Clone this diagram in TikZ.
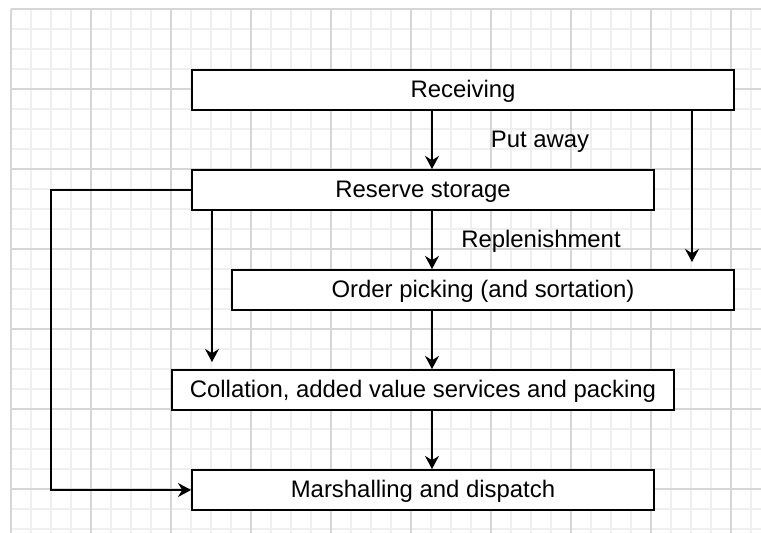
\documentclass[tikz,border=0pt]{standalone}
\usepackage{fontspec}
\setmainfont{Liberation Sans}
\usetikzlibrary{arrows.meta,calc}
\definecolor{minorgrey}{HTML}{EFEFEF}
\definecolor{majorgrey}{HTML}{D6D6D6}
\tikzset{
    box/.style =    {rectangle,
                    fill=white,
                    draw=black,
                    text=black,
                    line width=1.1pt,
                    minimum height=0.8cm,
                    inner sep=0pt,
                    text height=11.5pt,
                    text depth=2.4pt,
                    font=\fontsize{13.6pt}{16pt}\selectfont},
    tag/.style =    {text=black,
                    inner sep=0pt,
                    text height=11.5pt,
                    text depth=2.4pt,
                    font=\fontsize{13.6pt}{16pt}\selectfont},
    flow/.style =   {draw=black,
                    line width=0.9pt,
                    -{Stealth[length=7.5pt,width=8pt,inset=2.5pt]}},
    minorline/.style = {draw=minorgrey, line width=0.8pt},
    majorline/.style = {draw=majorgrey, line width=0.8pt}}

\begin{document}
\begin{tikzpicture}[x=0.02cm,y=-0.02cm]
    \useasboundingbox (0,0) rectangle (761,533);
    % background grid
    \foreach \gx in {11,31,...,751}
        \draw[minorline] (\gx,9) -- (\gx,533);
    \foreach \gy in {9,29,...,529}
        \draw[minorline] (11,\gy) -- (761,\gy);
    \foreach \gx in {11,91,...,731}
        \draw[majorline] (\gx,9) -- (\gx,533);
    \foreach \gy in {9,89,...,489}
        \draw[majorline] (11,\gy) -- (761,\gy);

    \node[box, minimum width=10.84cm] (receiving) at (463,90)  {Receiving};
    \node[box, minimum width=9.24cm]  (reserve)   at (423,190) {Reserve storage};
    \node[box, minimum width=10.04cm] (picking)   at (483,290) {Order picking (and sortation)};
    \node[box, minimum width=10.04cm] (collation) at (423,390) {Collation, added value services and packing};
    \node[box, minimum width=9.24cm]  (marshal)   at (423,490) {Marshalling and dispatch};

    \node[tag] (putaway) at (540,140) {Put away};
    \node[tag] (replen)  at (541,240) {Replenishment};

    \coordinate (spine) at (432,0);
    \coordinate (side)  at (692,0);
    \coordinate (drop)  at (212,0);

    \draw[flow] (spine |- receiving.south) -- (spine |- reserve.north);
    \draw[flow] (spine |- reserve.south)   -- (spine |- picking.north);
    \draw[flow] (spine |- picking.south)   -- (spine |- collation.north);
    \draw[flow] (spine |- collation.south) -- (spine |- marshal.north);
    \draw[flow, shorten >=0.14cm] (side |- receiving.south) -- (side |- picking.north);
    \draw[flow, shorten >=0.14cm] (drop |- reserve.south)   -- (drop |- collation.north);
    \draw[flow] (reserve.west) -- ++(-140,0) |- (marshal.west);
\end{tikzpicture}
\end{document}
